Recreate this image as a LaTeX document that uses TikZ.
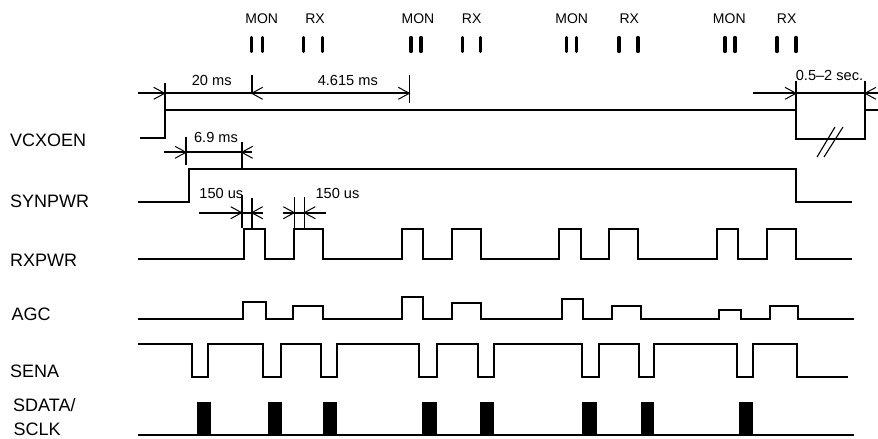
\documentclass[tikz,border=0pt]{standalone}
\usepackage{fontspec}
\setmainfont{Liberation Sans}
\begin{document}
\begin{tikzpicture}[x=1pt,y=-1pt,
  sig/.style={line width=1.7pt,line join=miter,line cap=butt},
  dimline/.style={line width=1.9pt},
  tickln/.style={line width=1.6pt},
  barb/.style={line width=1pt},
  bar/.style={line width=3.3pt,line cap=round},
  blk/.style={fill=black,draw=none},
  lab/.style={anchor=base west,inner sep=0pt,font=\fontsize{18}{20}\selectfont},
  marktxt/.style={anchor=base,inner sep=0pt,font=\fontsize{14}{16}\selectfont},
  dimtxt/.style={anchor=base,inner sep=0pt,font=\fontsize{14.6}{16}\selectfont}]
\useasboundingbox (0,0) rectangle (878,439);
\newcommand\ArrR[2]{\draw[barb] (#1-11,#2-6) -- (#1,#2) -- (#1-11,#2+6);}
\newcommand\ArrL[2]{\draw[barb] (#1+11,#2-6) -- (#1,#2) -- (#1+11,#2+6);}

% signal labels
\node[lab] (lvcx) at (10,146) {VCXOEN};
\node[lab] (lsyn) at (10,207) {SYNPWR};
\node[lab] (lrx) at (10,266) {RXPWR};
\node[lab] (lagc) at (11.5,320.7) {AGC};
\node[lab] (lsena) at (10,377.3) {SENA};
\node[lab] (lsd) at (13,411.7) {SDATA/};
\node[lab] (lsclk) at (13.5,435) {SCLK};

% MON / RX marks
\foreach \m/\r/\a/\b/\c/\d in {261.7/315/251.7/262.7/303.7/322.7,
                               418/471.7/411/421/462.7/480.7,
                               571.7/629.3/566.7/576.7/619/638,
                               729.3/786.7/725/735/777/796}{
  \node[marktxt] at (\m,23.3) {MON};
  \node[marktxt] at (\r,23.3) {RX};
  \foreach \x in {\a,\b,\c,\d} \draw[bar] (\x,37.5) -- (\x,51.5);
}

% VCXOEN
\draw[sig] (140,138) -- (164.7,138) -- (164.7,110) -- (796,110) -- (796,139)
  -- (865,139) -- (865,110) -- (878,110);
\draw[line width=1.1pt] (817,157) -- (835,127);
\draw[line width=1.1pt] (824,157) -- (843,127);

% SYNPWR
\draw[sig] (138,202) -- (189,202) -- (189,169) -- (796,169) -- (796,202) -- (852,202);

% RXPWR
\draw[sig] (138,259)
  \foreach \u/\v in {244.3/265.3,294.3/322.7,401.7/423,451.7/480.7,559.3/580.7,609/638.3,717.3/737.7,766.7/796}
  { -- (\u,259) -- (\u,229) -- (\v,229) -- (\v,259) } -- (852,259);

% AGC
\draw[sig] (138.3,319)
  \foreach \u/\v/\h in {243.3/265.7/301.7,293.3/322.7/305.7,401.7/423.3/296.7,451.7/480.7/303.3,561.7/583.3/299.3,611.7/640.7/305.7,719.3/740.7/310,770/798.3/305.7}
  { -- (\u,319) -- (\u,\h) -- (\v,\h) -- (\v,319) } -- (854,319);

% SENA
\draw[sig] (138.3,344)
  \foreach \u/\v in {191.7/208.3,263.3/281,320.7/336.7,419/436.7,478.3/494,581.7/599.3,639.3/654,737.3/753.3}
  { -- (\u,344) -- (\u,376.7) -- (\v,376.7) -- (\v,344) } -- (796.7,344) -- (796.7,376.7) -- (848.3,376.7);

% SDATA/SCLK
\foreach \u/\v in {196.7/211,267.7/281.7,322.7/336.7,422.3/436.7,480/494.3,582.3/596.7,640.7/654.3,739.3/753.3}
  \fill[blk] (\u,401.7) rectangle (\v,435);
\draw[sig] (138,435) -- (854,435);

% 20 ms / 4.615 ms
\draw[tickln] (164.7,83) -- (164.7,110);
\draw[tickln] (251.7,75) -- (251.7,93.3);
\draw[tickln] (409.3,75) -- (409.3,103.3);
\draw[dimline] (138,93.3) -- (409.3,93.3);
\ArrR{164.7}{93.3}
\ArrL{251.7}{93.3}
\ArrR{409.3}{93.3}
\node[dimtxt] (t20) at (211.7,85) {20 ms};
\node[dimtxt] (t4615) at (347.8,85) {4.615 ms};

% 0.5-2 sec.
\draw[tickln] (796,80.7) -- (796,110);
\draw[tickln] (865,80.7) -- (865,110);
\draw[dimline] (753.3,93.3) -- (878,93.3);
\ArrR{796}{93.3}
\ArrL{865}{93.3}
\node[dimtxt] (tsec) at (829.5,80.7) {0.5–2 sec.};

% 6.9 ms
\draw[tickln] (186,137) -- (186,165);
\draw[tickln] (241.7,142) -- (241.7,169);
\draw[dimline] (164.3,152.3) -- (251.7,152.3);
\ArrR{186}{152.3}
\ArrL{241.7}{152.3}
\node[dimtxt] (t69) at (216,142.7) {6.9 ms};

% 150 us (1)
\draw[tickln] (241.7,195) -- (241.7,228);
\draw[tickln] (251.7,198) -- (251.7,228);
\draw[dimline] (199,212.7) -- (263.3,212.7);
\ArrR{241.7}{212.7}
\ArrL{251.7}{212.7}
\node[dimtxt] (t150a) at (221.3,198.3) {150 us};

% 150 us (2)
\draw[tickln] (294.3,197.3) -- (294.3,228);
\draw[tickln] (304.3,197.3) -- (304.3,228);
\draw[dimline] (283.3,212.7) -- (326,212.7);
\ArrR{294.3}{212.7}
\ArrL{304.3}{212.7}
\node[dimtxt] (t150b) at (337.5,198.3) {150 us};
\end{tikzpicture}
\end{document}
